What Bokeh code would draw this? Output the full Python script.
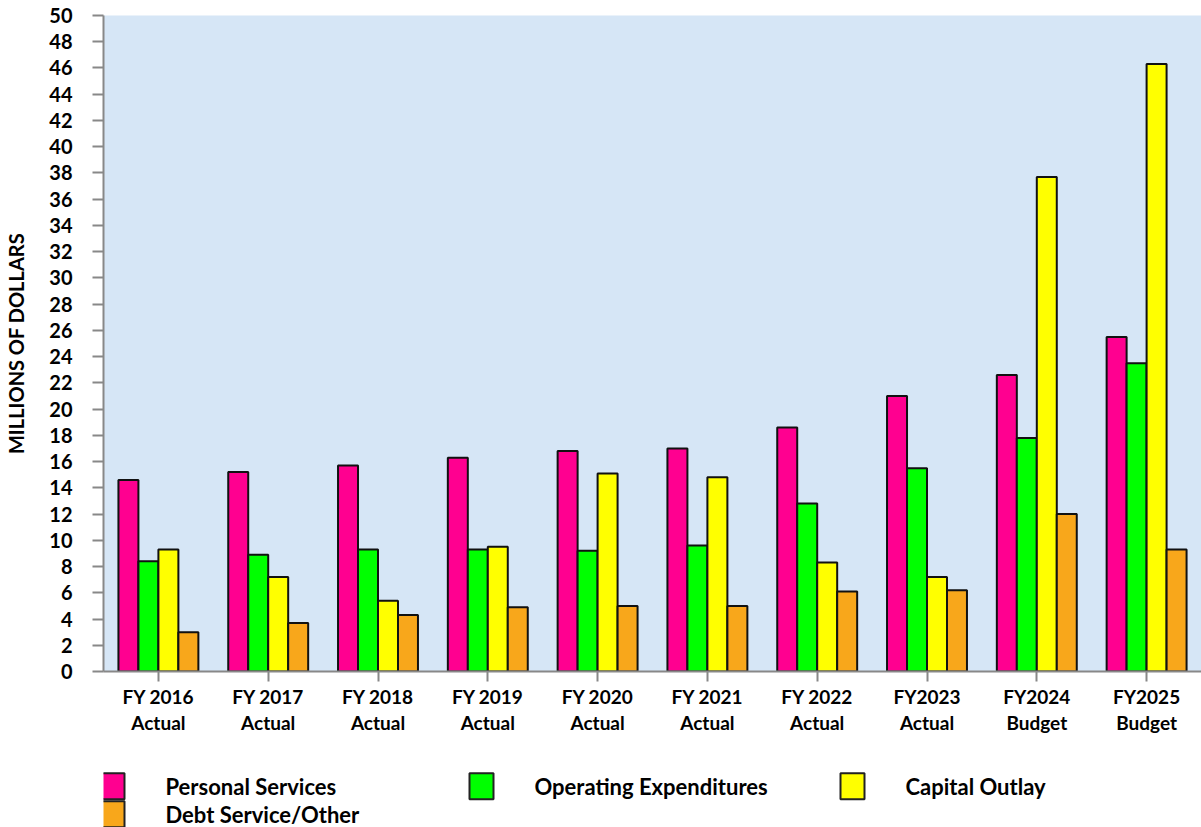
from bokeh.plotting import figure
from bokeh.layouts import column
from bokeh.models import Range1d, FixedTicker, ColumnDataSource
from bokeh.core.properties import value
from bokeh.embed import file_html
from bokeh.resources import INLINE

# Fiscal years on the category axis
years = ["FY 2016", "FY 2017", "FY 2018", "FY 2019", "FY 2020",
         "FY 2021", "FY 2022", "FY2023", "FY2024", "FY2025"]
kinds = ["Actual", "Actual", "Actual", "Actual", "Actual",
         "Actual", "Actual", "Actual", "Budget", "Budget"]

# Expenditures by category, millions of dollars
personal_services = [14.6, 15.2, 15.7, 16.3, 16.8, 17.0, 18.6, 21.0, 22.6, 25.5]
operating_expenditures = [8.4, 8.9, 9.3, 9.3, 9.2, 9.6, 12.8, 15.5, 17.8, 23.5]
capital_outlay = [9.3, 7.2, 5.4, 9.5, 15.1, 14.8, 8.3, 7.2, 37.7, 46.3]
debt_service_other = [3.0, 3.7, 4.3, 4.9, 5.0, 5.0, 6.1, 6.2, 12.0, 9.3]

series_names = ["Personal Services", "Operating Expenditures",
                "Capital Outlay", "Debt Service/Other"]
series_values = [personal_services, operating_expenditures,
                 capital_outlay, debt_service_other]
series_colors = ["#FF0090", "#00FF00", "#FFFF00", "#F8A71B"]

y_ticks = list(range(0, 51, 2))

FONT = "Lato"
BAR_W = 0.182
LEFT = 103

p = figure(width=1201, height=745, output_backend="svg", toolbar_location=None,
           x_range=Range1d(0, len(years)), y_range=Range1d(0, 50),
           min_border_left=LEFT, min_border_right=0, min_border_top=15,
           min_border_bottom=74)
p.background_fill_color = "#D6E6F6"
p.border_fill_color = "white"
p.outline_line_color = None
p.xgrid.visible = False
p.ygrid.visible = False

centers = [i + 0.5 for i in range(len(years))]
for k, (name, vals, col) in enumerate(zip(series_names, series_values, series_colors)):
    xs = [c + (k - 1.5) * BAR_W for c in centers]
    src = ColumnDataSource(dict(x=xs, top=vals))
    p.vbar(x="x", top="top", bottom=0, width=BAR_W, source=src,
           fill_color=col, line_color="#111111", line_width=2)

# y axis
ya = p.yaxis[0]
ya.ticker = FixedTicker(ticks=y_ticks)
ya.axis_label = "MILLIONS OF DOLLARS"
ya.axis_label_text_font = FONT
ya.axis_label_text_font_style = "bold"
ya.axis_label_text_font_size = "20px"
ya.axis_label_text_color = "black"
ya.axis_label_standoff = 18
ya.major_label_text_font = FONT
ya.major_label_text_font_style = "bold"
ya.major_label_text_font_size = "20px"
ya.major_label_text_color = "black"
ya.major_label_standoff = 20
ya.major_tick_in = 0
ya.major_tick_out = 11
ya.minor_tick_line_color = None
ya.axis_line_color = "#888888"
ya.axis_line_width = 2
ya.major_tick_line_color = "#888888"
ya.major_tick_line_width = 2

# x axis with two-line category labels
xa = p.xaxis[0]
xa.ticker = FixedTicker(ticks=centers)
xa.major_label_overrides = {c: f"{y}\n{k}" for c, y, k in zip(centers, years, kinds)}
xa.major_label_text_font = FONT
xa.major_label_text_font_style = "bold"
xa.major_label_text_font_size = "19px"
xa.major_label_text_color = "black"
xa.major_label_text_line_height = 1.15
xa.major_label_standoff = 3
xa.major_tick_in = 0
xa.major_tick_out = 10
xa.minor_tick_line_color = None
xa.axis_line_color = "#888888"
xa.axis_line_width = 2
xa.major_tick_line_color = "#888888"
xa.major_tick_line_width = 2

# legend strip below the chart; its frame lines up with the chart frame,
# so the x range starts at the chart's left border
leg = figure(width=1201, height=82, output_backend="svg", toolbar_location=None,
             x_range=Range1d(LEFT, 1201), y_range=Range1d(82, 0),
             min_border=0, min_border_left=LEFT)
leg.axis.visible = False
leg.grid.visible = False
leg.outline_line_color = None
leg.background_fill_color = "white"
leg.border_fill_color = "white"

box_left = [100, 469, 840, 100]
box_row = [0, 0, 0, 1]
row_y = [40.7, 68.8]
bx = [b + 12 for b in box_left]
by = [row_y[r] for r in box_row]
leg.rect(x=bx, y=by, width=24, height=26, fill_color=series_colors,
         line_color="#222222", line_width=2)
leg.text(x=[b + 65 for b in box_left], y=by, text=series_names,
         text_font=value(FONT), text_font_style="bold", text_font_size="22px",
         text_baseline="middle", text_align="left", text_color="black")

layout = column(p, leg, spacing=0)
open("out.html", "w").write(file_html(layout, INLINE))
